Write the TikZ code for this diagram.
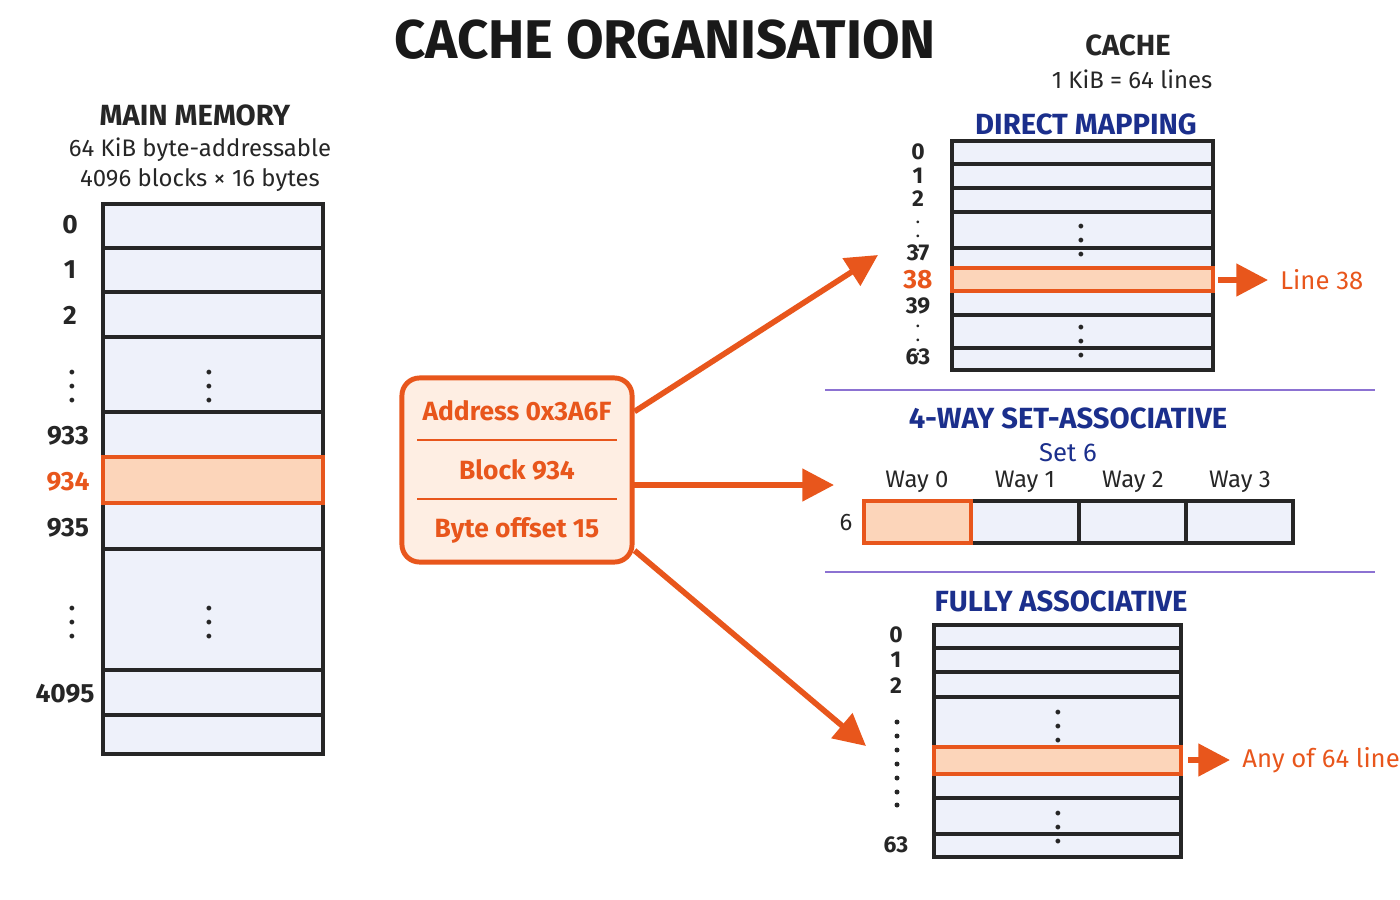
\documentclass[tikz,border=0pt]{standalone}
\usepackage{fontspec}
\setmainfont{Fira Sans}
\usetikzlibrary{arrows.meta,positioning}
\definecolor{hot}{HTML}{E8561C}
\definecolor{hotfill}{HTML}{FCD5BA}
\definecolor{cell}{HTML}{EEF1FA}
\definecolor{navy}{HTML}{1B2F8C}
\definecolor{rule}{HTML}{8C72D2}
\tikzstyle{lbl}=[font=\fontsize{7.5}{9}\selectfont\bfseries,text=black!85]
\tikzstyle{head}=[font=\fontsize{8.3}{10}\selectfont\bfseries,text=navy]
\tikzstyle{sub}=[font=\fontsize{6.8}{8.5}\selectfont,text=black!85]
\tikzstyle{grid}=[draw=black!85,line width=0.9pt,fill=cell]
\tikzstyle{hit}=[draw=hot,line width=1.2pt,fill=hotfill]
\tikzstyle{link}=[draw=hot,line width=1.6pt,-{Triangle[length=9pt,width=9pt]}]
\tikzstyle{dot}=[circle,fill=black!85,inner sep=0pt,minimum size=0.05cm]
\begin{document}
\begin{tikzpicture}[x=0.01cm,y=-0.01cm]
        \useasboundingbox (0,0) rectangle (1400,900);
        \node[font=\fontsize{15.5}{18}\selectfont\bfseries,text=black!90] (title) at (665,40) {CACHE ORGANISATION};

        % main memory
        \node[lbl,font=\fontsize{8.3}{10}\selectfont\bfseries] (mmhead) at (195,115) {MAIN MEMORY};
        \node[sub,align=center] (mmsub) at (200,165) {64 KiB byte-addressable\\4096 blocks × 16 bytes};
        \draw[grid] (103,204) rectangle (323,754);
        \foreach \y in {248,292,337,412,457,503,549,670,715} \draw[black!85,line width=0.9pt] (103,\y) -- (323,\y);
        \draw[hit] (103,457) rectangle (323,503);
        \node[lbl] (m0) at (70,225) {0};
        \node[lbl] (m1) at (70,270) {1};
        \node[lbl] (m2) at (70,315) {2};
        \node[lbl] (mdots) at (72,376) {$\vdots$};
        \node[lbl] (mdotsb) at (209,376) {$\vdots$};
        \node[lbl] (m933) at (68,436) {933};
        \node[lbl,text=hot] (m934) at (68,482) {934};
        \node[lbl] (m935) at (68,528) {935};
        \node[lbl] (mdotsc) at (72,612) {$\vdots$};
        \node[lbl] (mdotsd) at (209,612) {$\vdots$};
        \node[lbl] (m4095) at (65,694) {4095};

        % address box
        \node[draw=hot,line width=1.4pt,fill=hotfill!40,rounded corners=5pt,minimum width=2.3cm,minimum height=1.84cm] (addr) at (517,470) {};
        \draw[hot,line width=0.8pt] (417,440) -- (617,440);
        \draw[hot,line width=0.8pt] (417,499) -- (617,499);
        \node[lbl,text=hot] (a1) at (517,411) {Address 0x3A6F};
        \node[lbl,text=hot] (a2) at (517,470) {Block 934};
        \node[lbl,text=hot] (a3) at (517,530) {Byte offset 15};

        % cache header
        \node[lbl,font=\fontsize{8.3}{10}\selectfont\bfseries] (chead) at (1128,45) {CACHE};
        \node[sub] (csub) at (1132,79) {1 KiB = 64 lines};

        % direct mapping
        \node[head] (dmhead) at (1086,124) {DIRECT MAPPING};
        \draw[grid] (952,141) rectangle (1213,370);
        \foreach \y in {164,188,212,248,291,315,348} \draw[black!85,line width=0.9pt] (952,\y) -- (1213,\y);
        \draw[hit] (952,268) rectangle (1213,291);
        \foreach \n/\y in {0/152,1/176,2/199,37/253,39/306,63/357} \node[lbl,font=\fontsize{6.5}{8}\selectfont\bfseries] (d\n) at (918,\y) {\n};
        \node[lbl,text=hot] (d38) at (918,280) {38};
        \node[lbl,font=\fontsize{5.5}{6}\selectfont] (ddots) at (918,226) {$\vdots$};
        \node[lbl,font=\fontsize{5.5}{6}\selectfont] (ddotsb) at (918,330) {$\vdots$};
        \node[lbl] (ddotsc) at (1081,230) {$\vdots$};
        \node[lbl] (ddotsd) at (1081,331) {$\vdots$};
        \coordinate (dmend) at (1218,280);
        \node[sub,text=hot,font=\fontsize{7.3}{9}\selectfont,anchor=west] (line38) at (1268,280) {Line 38};
        \draw[link] (dmend) -- (line38.west);

        \draw[rule,line width=0.8pt] (825,390) -- (1375,390);
        \draw[rule,line width=0.8pt] (825,572) -- (1375,572);

        % set associative
        \node[head] (sahead) at (1068,418) {4-WAY SET-ASSOCIATIVE};
        \node[head,font=\fontsize{7.3}{9}\selectfont] (set6) at (1068,453) {Set 6};
        \draw[grid] (864,501) rectangle (1293,543);
        \foreach \x in {1079,1186} \draw[black!85,line width=0.9pt] (\x,501) -- (\x,543);
        \draw[hit] (864,501) rectangle (971,543);
        \foreach \i/\x in {0/917,1/1025,2/1133,3/1240} \node[sub,font=\fontsize{6.8}{8}\selectfont] (way\i) at (\x,482) {Way \i};
        \node[lbl,font=\fontsize{6.8}{8}\selectfont] (s6) at (846,523) {6};

        % fully associative
        \node[head] (fahead) at (1061,601) {FULLY ASSOCIATIVE};
        \draw[grid] (934,625) rectangle (1181,857);
        \foreach \y in {648,672,697,747,774,798,834} \draw[black!85,line width=0.9pt] (934,\y) -- (1181,\y);
        \draw[hit] (934,747) rectangle (1181,774);
        \foreach \n/\y in {0/635,1/660,2/686,63/845} \node[lbl,font=\fontsize{6.5}{8}\selectfont\bfseries] (f\n) at (896,\y) {\n};
        \foreach \i/\y in {1/722,2/736,3/750,4/764,5/778,6/792,7/805} \node[dot] (fd\i) at (897,\y) {};
        \node[lbl] (fdotsa) at (1058,716) {$\vdots$};
        \node[lbl] (fdotsb) at (1058,817) {$\vdots$};
        \coordinate (faend) at (1188,760);
        \node[sub,text=hot,font=\fontsize{7.3}{9}\selectfont,anchor=west] (any) at (1230,760) {Any of 64 lines};
        \draw[link] (faend) -- (any.west);

        % mapping arrows
        \coordinate (dmin) at (878,255);
        \coordinate (sain) at (834,485);
        \coordinate (fain) at (866,746);
        \draw[link] (addr.north east) ++(0,36) -- (dmin);
        \draw[link] (632,485) -- (sain);
        \draw[link] (addr.south east) ++(0,-14) -- (fain);
\end{tikzpicture}
\end{document}
